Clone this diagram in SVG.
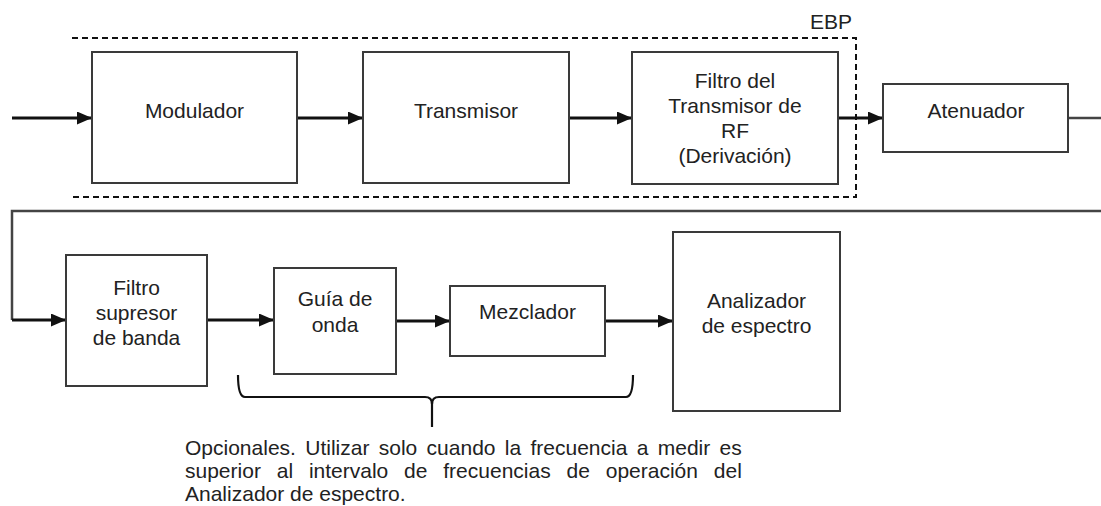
<svg xmlns="http://www.w3.org/2000/svg" width="1101" height="506" viewBox="0 0 1101 506">
<style>
.box{fill:#fff;stroke:#3a3a3a;stroke-width:2}
.t{font-family:"Liberation Sans",Arial,sans-serif;font-size:21px;fill:#222;text-anchor:middle}
.cap{font-family:"Liberation Sans",Arial,sans-serif;font-size:21px;fill:#222}
.c{fill:none;stroke:#111;stroke-width:2.8}
.loop{fill:none;stroke:#444;stroke-width:2.5}
.dash{fill:none;stroke:#111;stroke-width:2;stroke-dasharray:6 4}
.br{fill:none;stroke:#111;stroke-width:2.2}
</style>
<defs>
<marker id="ah" markerUnits="userSpaceOnUse" markerWidth="15" markerHeight="13" refX="15" refY="6.5" orient="auto">
<path d="M0,0 L15,6.5 L0,13 z" fill="#111"/>
</marker>
</defs>
<rect width="1101" height="506" fill="#fff"/>

<g id="ebp">
<path class="dash" d="M72,38 L856,38 L856,197 L73,197"/>
<text class="t" x="831" y="29">EBP</text>
</g>

<g id="connectors">
<line class="c" x1="12" y1="118" x2="92" y2="118" marker-end="url(#ah)"/>
<line class="c" x1="297" y1="118" x2="363" y2="118" marker-end="url(#ah)"/>
<line class="c" x1="569" y1="118" x2="632" y2="118" marker-end="url(#ah)"/>
<line class="c" x1="838" y1="118" x2="883" y2="118" marker-end="url(#ah)"/>
<line class="loop" x1="1068" y1="118" x2="1101" y2="118"/>
<path class="loop" d="M1101,211 L12,211 L12,320"/>
<path class="c" d="M12,320 L66,320" marker-end="url(#ah)"/>
<line class="c" x1="207" y1="320" x2="274" y2="320" marker-end="url(#ah)"/>
<line class="c" x1="396" y1="321" x2="450" y2="321" marker-end="url(#ah)"/>
<line class="c" x1="605" y1="321" x2="673" y2="321" marker-end="url(#ah)"/>
</g>

<g id="modulador">
<rect class="box" x="92" y="52" width="205" height="131"/>
<text class="t" x="194.5" y="118">Modulador</text>
</g>
<g id="transmisor">
<rect class="box" x="363" y="52" width="206" height="131"/>
<text class="t" x="466" y="118">Transmisor</text>
</g>
<g id="filtro_tx">
<rect class="box" x="632" y="52" width="206" height="132"/>
<text class="t" x="735" y="88">Filtro del</text>
<text class="t" x="735" y="113">Transmisor de</text>
<text class="t" x="735" y="138">RF</text>
<text class="t" x="735" y="163">(Derivación)</text>
</g>
<g id="atenuador">
<rect class="box" x="883" y="84" width="185" height="68"/>
<text class="t" x="976" y="118">Atenuador</text>
</g>
<g id="filtro_supresor">
<rect class="box" x="66" y="255" width="141" height="131"/>
<text class="t" x="136.5" y="295">Filtro</text>
<text class="t" x="136.5" y="320">supresor</text>
<text class="t" x="136.5" y="345">de banda</text>
</g>
<g id="guia">
<rect class="box" x="274" y="268" width="122" height="106"/>
<text class="t" x="335" y="306">Guía de</text>
<text class="t" x="335" y="332">onda</text>
</g>
<g id="mezclador">
<rect class="box" x="450" y="286" width="155" height="70"/>
<text class="t" x="527.5" y="319">Mezclador</text>
</g>
<g id="analizador">
<rect class="box" x="673" y="232" width="167" height="179"/>
<text class="t" x="756.5" y="308">Analizador</text>
<text class="t" x="756.5" y="333">de espectro</text>
</g>

<g id="bracket">
<path class="br" d="M238,375 Q238,397 245,397 L425,397 Q432,397 432,404 Q432,397 439,397 L626,397 Q633,397 633,375"/>
<line class="br" x1="432" y1="400" x2="432" y2="427"/>
</g>

<g id="caption">
<text class="cap" x="185" y="455" word-spacing="3.5">Opcionales. Utilizar solo cuando la frecuencia a medir es</text>
<text class="cap" x="185" y="478" word-spacing="10">superior al intervalo de frecuencias de operación del</text>
<text class="cap" x="185" y="501">Analizador de espectro.</text>
</g>
</svg>
